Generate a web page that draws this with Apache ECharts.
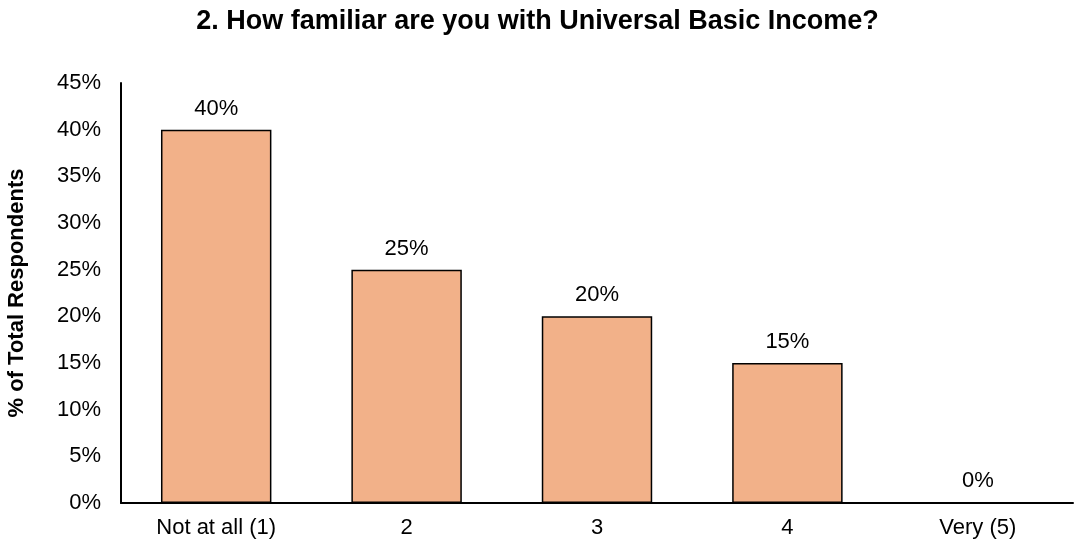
<!DOCTYPE html>
<html>
<head>
<meta charset="utf-8">
<script src="https://cdn.jsdelivr.net/npm/echarts@6/dist/echarts.min.js"></script>
<style>
  html, body { margin: 0; padding: 0; background: #fff; }
  #chart { width: 1075px; height: 546px; }
</style>
</head>
<body>
<div id="chart"></div>
<script>
// Survey responses: familiarity with Universal Basic Income
const categories = ['Not at all (1)', '2', '3', '4', 'Very (5)'];
const shares = [40, 25, 20, 15, 0];
const yTicks = { min: 0, max: 45, interval: 5 };

const font = '"Liberation Sans", Arial, sans-serif';
const chart = echarts.init(document.getElementById('chart'), null, { renderer: 'canvas' });

chart.setOption({
  animation: false,
  title: {
    text: '2. How familiar are you with Universal Basic Income?',
    left: 'center',
    top: 3,
    textStyle: { fontFamily: font, fontSize: 27, fontWeight: 'bold', color: '#000' }
  },
  grid: { left: 121, right: 2, top: 83, bottom: 43, containLabel: false, outerBoundsMode: 'none' },
  xAxis: {
    type: 'category',
    data: categories,
    axisLine: { lineStyle: { color: '#000', width: 2 } },
    axisTick: { show: false },
    axisLabel: { fontFamily: font, fontSize: 22, color: '#000', margin: 14 }
  },
  yAxis: {
    type: 'value',
    min: yTicks.min,
    max: yTicks.max,
    interval: yTicks.interval,
    name: '% of Total Respondents',
    nameLocation: 'middle',
    nameGap: 93,
    nameTextStyle: { fontFamily: font, fontSize: 22, fontWeight: 'bold', color: '#000' },
    axisLine: { show: true, lineStyle: { color: '#000', width: 2 } },
    axisTick: { show: false },
    splitLine: { show: false },
    axisLabel: { fontFamily: font, fontSize: 22, color: '#000', margin: 20, formatter: '{value}%' }
  },
  series: [{
    type: 'bar',
    data: shares,
    barWidth: '58%',
    itemStyle: { color: '#F2B189', borderColor: '#000', borderWidth: 1.5 },
    label: {
      show: true,
      position: 'top',
      distance: 10,
      formatter: '{c}%',
      fontFamily: font,
      fontSize: 22,
      color: '#000'
    }
  }]
});
</script>
</body>
</html>
